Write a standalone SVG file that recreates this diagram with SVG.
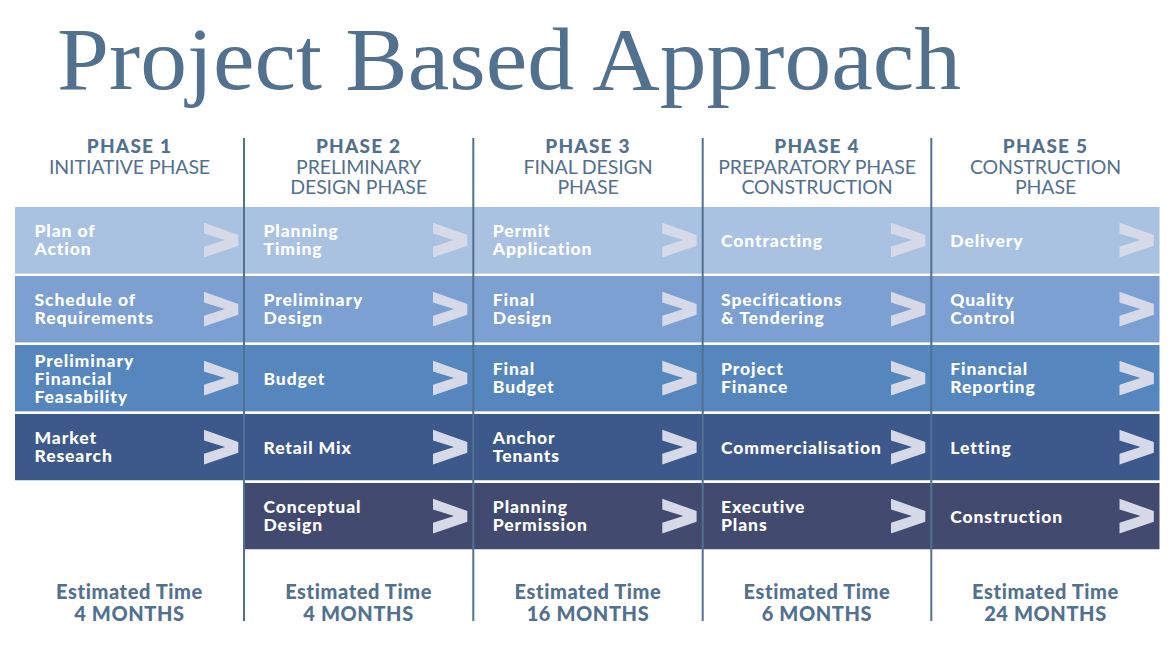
<svg xmlns="http://www.w3.org/2000/svg" xmlns:xlink="http://www.w3.org/1999/xlink" width="1176" height="662" viewBox="0 0 1176 662">
<defs>
<style>
.title{font-family:"Liberation Serif","Times New Roman",serif;font-size:89px;fill:#52718f}
.ph{font-family:Lato,"Open Sans",sans-serif;font-weight:900;font-size:19px;letter-spacing:1.2px;fill:#52718f;text-anchor:middle}
.sub{font-family:Lato,"Open Sans",sans-serif;font-weight:400;font-size:19.5px;letter-spacing:-0.1px;fill:#52718f;text-anchor:middle}
.est{font-family:Lato,"Open Sans",sans-serif;font-weight:900;font-size:20px;letter-spacing:0.6px;fill:#52718f;text-anchor:middle}
.cell{font-family:Lato,"Open Sans",sans-serif;font-weight:900;font-size:17.5px;letter-spacing:0.9px;fill:#ffffff}
.r1{fill:#aac2e2}.r2{fill:#7ca0d2}.r3{fill:#5586be}.r4{fill:#3d598b}.r5{fill:#424b6f}
.edge{stroke:#ccd5e3;stroke-width:1}
.sep{stroke:#52718f;stroke-width:2}
.chev{fill:#d6dae8}
</style>
<polygon id="chev" points="0,0 34.3,12.3 34.3,23 0,34.7 0,24 21,17.35 0,10.7"/>
</defs>
<rect width="1176" height="662" fill="#ffffff"/>
<text class="title" x="57" y="89" textLength="904" lengthAdjust="spacingAndGlyphs">Project Based Approach</text>

<g id="headers">
<g id="phase1"><text class="ph" x="129.5" y="152.7">PHASE 1</text><text class="sub" x="129.5" y="173.8">INITIATIVE PHASE</text></g>
<g id="phase2"><text class="ph" x="358.6" y="152.7">PHASE 2</text><text class="sub" x="358.6" y="173.8">PRELIMINARY</text><text class="sub" x="358.6" y="193.8">DESIGN PHASE</text></g>
<g id="phase3"><text class="ph" x="588" y="152.7">PHASE 3</text><text class="sub" x="588" y="173.8">FINAL DESIGN</text><text class="sub" x="588" y="193.8">PHASE</text></g>
<g id="phase4"><text class="ph" x="817" y="152.7">PHASE 4</text><text class="sub" x="817" y="173.8">PREPARATORY PHASE</text><text class="sub" x="817" y="193.8">CONSTRUCTION</text></g>
<g id="phase5"><text class="ph" x="1045.5" y="152.7">PHASE 5</text><text class="sub" x="1045.5" y="173.8">CONSTRUCTION</text><text class="sub" x="1045.5" y="193.8">PHASE</text></g>
</g>

<!-- Row 1 -->
<g id="c1r1"><rect class="r1" x="15" y="207" width="229" height="66"/><line class="edge" x1="15" y1="273.5" x2="244" y2="273.5"/><text class="cell" x="34.5" y="237"><tspan x="34.5">Plan of</tspan><tspan x="34.5" dy="18">Action</tspan></text></g>
<g id="c2r1"><rect class="r1" x="244" y="207" width="229.3" height="66"/><line class="edge" x1="244" y1="273.5" x2="473.3" y2="273.5"/><text class="cell" x="263.5" y="237"><tspan x="263.5">Planning</tspan><tspan x="263.5" dy="18">Timing</tspan></text></g>
<g id="c3r1"><rect class="r1" x="473.3" y="207" width="229.4" height="66"/><line class="edge" x1="473.3" y1="273.5" x2="702.7" y2="273.5"/><text class="cell" x="492.8" y="237"><tspan x="492.8">Permit</tspan><tspan x="492.8" dy="18">Application</tspan></text></g>
<g id="c4r1"><rect class="r1" x="702.7" y="207" width="228.6" height="66"/><line class="edge" x1="702.7" y1="273.5" x2="931.3" y2="273.5"/><text class="cell" x="721" y="246.5">Contracting</text></g>
<g id="c5r1"><rect class="r1" x="931.3" y="207" width="228.2" height="66"/><line class="edge" x1="931.3" y1="273.5" x2="1159.5" y2="273.5"/><text class="cell" x="950.3" y="246.5">Delivery</text></g>

<!-- Row 2 -->
<g id="c1r2"><rect class="r2" x="15" y="276" width="229" height="66"/><line class="edge" x1="15" y1="342.5" x2="244" y2="342.5"/><text class="cell" x="34.5" y="306"><tspan x="34.5">Schedule of</tspan><tspan x="34.5" dy="18">Requirements</tspan></text></g>
<g id="c2r2"><rect class="r2" x="244" y="276" width="229.3" height="66"/><line class="edge" x1="244" y1="342.5" x2="473.3" y2="342.5"/><text class="cell" x="263.5" y="306"><tspan x="263.5">Preliminary</tspan><tspan x="263.5" dy="18">Design</tspan></text></g>
<g id="c3r2"><rect class="r2" x="473.3" y="276" width="229.4" height="66"/><line class="edge" x1="473.3" y1="342.5" x2="702.7" y2="342.5"/><text class="cell" x="492.8" y="306"><tspan x="492.8">Final</tspan><tspan x="492.8" dy="18">Design</tspan></text></g>
<g id="c4r2"><rect class="r2" x="702.7" y="276" width="228.6" height="66"/><line class="edge" x1="702.7" y1="342.5" x2="931.3" y2="342.5"/><text class="cell" x="721" y="306"><tspan x="721">Specifications</tspan><tspan x="721" dy="18">&amp; Tendering</tspan></text></g>
<g id="c5r2"><rect class="r2" x="931.3" y="276" width="228.2" height="66"/><line class="edge" x1="931.3" y1="342.5" x2="1159.5" y2="342.5"/><text class="cell" x="950.3" y="306"><tspan x="950.3">Quality</tspan><tspan x="950.3" dy="18">Control</tspan></text></g>

<!-- Row 3 -->
<g id="c1r3"><rect class="r3" x="15" y="345" width="229" height="66"/><line class="edge" x1="15" y1="411.5" x2="244" y2="411.5"/><text class="cell" x="34.5" y="366.5"><tspan x="34.5">Preliminary</tspan><tspan x="34.5" dy="18">Financial</tspan><tspan x="34.5" dy="18">Feasability</tspan></text></g>
<g id="c2r3"><rect class="r3" x="244" y="345" width="229.3" height="66"/><line class="edge" x1="244" y1="411.5" x2="473.3" y2="411.5"/><text class="cell" x="263.5" y="384.5">Budget</text></g>
<g id="c3r3"><rect class="r3" x="473.3" y="345" width="229.4" height="66"/><line class="edge" x1="473.3" y1="411.5" x2="702.7" y2="411.5"/><text class="cell" x="492.8" y="375"><tspan x="492.8">Final</tspan><tspan x="492.8" dy="18">Budget</tspan></text></g>
<g id="c4r3"><rect class="r3" x="702.7" y="345" width="228.6" height="66"/><line class="edge" x1="702.7" y1="411.5" x2="931.3" y2="411.5"/><text class="cell" x="721" y="375"><tspan x="721">Project</tspan><tspan x="721" dy="18">Finance</tspan></text></g>
<g id="c5r3"><rect class="r3" x="931.3" y="345" width="228.2" height="66"/><line class="edge" x1="931.3" y1="411.5" x2="1159.5" y2="411.5"/><text class="cell" x="950.3" y="375"><tspan x="950.3">Financial</tspan><tspan x="950.3" dy="18">Reporting</tspan></text></g>

<!-- Row 4 -->
<g id="c1r4"><rect class="r4" x="15" y="414" width="229" height="66"/><line class="edge" x1="15" y1="480.5" x2="244" y2="480.5"/><text class="cell" x="34.5" y="444"><tspan x="34.5">Market</tspan><tspan x="34.5" dy="18">Research</tspan></text></g>
<g id="c2r4"><rect class="r4" x="244" y="414" width="229.3" height="66"/><line class="edge" x1="244" y1="480.5" x2="473.3" y2="480.5"/><text class="cell" x="263.5" y="453.5">Retail Mix</text></g>
<g id="c3r4"><rect class="r4" x="473.3" y="414" width="229.4" height="66"/><line class="edge" x1="473.3" y1="480.5" x2="702.7" y2="480.5"/><text class="cell" x="492.8" y="444"><tspan x="492.8">Anchor</tspan><tspan x="492.8" dy="18">Tenants</tspan></text></g>
<g id="c4r4"><rect class="r4" x="702.7" y="414" width="228.6" height="66"/><line class="edge" x1="702.7" y1="480.5" x2="931.3" y2="480.5"/><text class="cell" x="721" y="453.5">Commercialisation</text></g>
<g id="c5r4"><rect class="r4" x="931.3" y="414" width="228.2" height="66"/><line class="edge" x1="931.3" y1="480.5" x2="1159.5" y2="480.5"/><text class="cell" x="950.3" y="453.5">Letting</text></g>

<!-- Row 5 -->
<g id="c2r5"><rect class="r5" x="244" y="483" width="229.3" height="66"/><line class="edge" x1="244" y1="549.5" x2="473.3" y2="549.5"/><text class="cell" x="263.5" y="513"><tspan x="263.5">Conceptual</tspan><tspan x="263.5" dy="18">Design</tspan></text></g>
<g id="c3r5"><rect class="r5" x="473.3" y="483" width="229.4" height="66"/><line class="edge" x1="473.3" y1="549.5" x2="702.7" y2="549.5"/><text class="cell" x="492.8" y="513"><tspan x="492.8">Planning</tspan><tspan x="492.8" dy="18">Permission</tspan></text></g>
<g id="c4r5"><rect class="r5" x="702.7" y="483" width="228.6" height="66"/><line class="edge" x1="702.7" y1="549.5" x2="931.3" y2="549.5"/><text class="cell" x="721" y="513"><tspan x="721">Executive</tspan><tspan x="721" dy="18">Plans</tspan></text></g>
<g id="c5r5"><rect class="r5" x="931.3" y="483" width="228.2" height="66"/><line class="edge" x1="931.3" y1="549.5" x2="1159.5" y2="549.5"/><text class="cell" x="950.3" y="522.5">Construction</text></g>

<g id="connectors" class="chev">
<use xlink:href="#chev" x="204" y="222.7"/><use xlink:href="#chev" x="433" y="222.7"/><use xlink:href="#chev" x="662.3" y="222.7"/><use xlink:href="#chev" x="891" y="222.7"/><use xlink:href="#chev" x="1119.5" y="222.7"/>
<use xlink:href="#chev" x="204" y="291.7"/><use xlink:href="#chev" x="433" y="291.7"/><use xlink:href="#chev" x="662.3" y="291.7"/><use xlink:href="#chev" x="891" y="291.7"/><use xlink:href="#chev" x="1119.5" y="291.7"/>
<use xlink:href="#chev" x="204" y="360.7"/><use xlink:href="#chev" x="433" y="360.7"/><use xlink:href="#chev" x="662.3" y="360.7"/><use xlink:href="#chev" x="891" y="360.7"/><use xlink:href="#chev" x="1119.5" y="360.7"/>
<use xlink:href="#chev" x="204" y="429.7"/><use xlink:href="#chev" x="433" y="429.7"/><use xlink:href="#chev" x="662.3" y="429.7"/><use xlink:href="#chev" x="891" y="429.7"/><use xlink:href="#chev" x="1119.5" y="429.7"/>
<use xlink:href="#chev" x="433" y="498.7"/><use xlink:href="#chev" x="662.3" y="498.7"/><use xlink:href="#chev" x="891" y="498.7"/><use xlink:href="#chev" x="1119.5" y="498.7"/>
</g>

<g id="separators">
<line class="sep" x1="244" y1="138" x2="244" y2="621"/>
<line class="sep" x1="473.3" y1="138" x2="473.3" y2="621"/>
<line class="sep" x1="702.7" y1="138" x2="702.7" y2="621"/>
<line class="sep" x1="931.3" y1="138" x2="931.3" y2="621"/>
</g>

<g id="estimates">
<g id="est1"><text class="est" x="129.5" y="599.3">Estimated Time</text><text class="est" x="129.5" y="620.5">4 MONTHS</text></g>
<g id="est2"><text class="est" x="358.6" y="599.3">Estimated Time</text><text class="est" x="358.6" y="620.5">4 MONTHS</text></g>
<g id="est3"><text class="est" x="588" y="599.3">Estimated Time</text><text class="est" x="588" y="620.5">16 MONTHS</text></g>
<g id="est4"><text class="est" x="817" y="599.3">Estimated Time</text><text class="est" x="817" y="620.5">6 MONTHS</text></g>
<g id="est5"><text class="est" x="1045.5" y="599.3">Estimated Time</text><text class="est" x="1045.5" y="620.5">24 MONTHS</text></g>
</g>
</svg>
